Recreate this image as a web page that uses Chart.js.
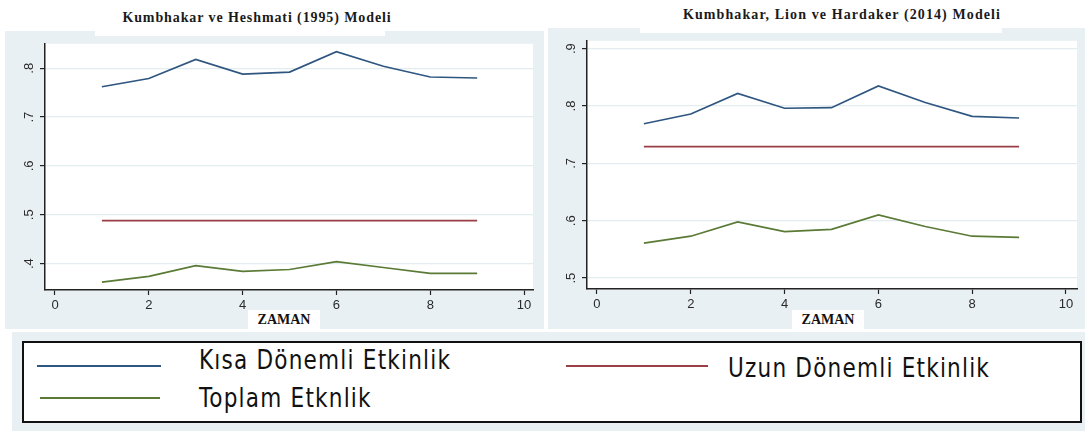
<!DOCTYPE html>
<html>
<head>
<meta charset="utf-8">
<script src="https://cdn.jsdelivr.net/npm/chart.js@4/dist/chart.umd.min.js"></script>
<style>
  html, body { margin: 0; padding: 0; background: #ffffff; }
  #page { position: relative; width: 1085px; height: 431px; overflow: hidden; background: #ffffff; }
  .panel { position: absolute; background: #e9f0f3; }
  .panel canvas { position: absolute; left: 0; top: 0; }
  .title { position: absolute; font-family: "Liberation Serif", "Times New Roman", serif; font-weight: bold;
           font-size: 14px; letter-spacing: 0.9px; color: #1a1a1a; white-space: nowrap; transform: translateX(-50%); }
  .xtitle { position: absolute; background: #ffffff; font-family: "Liberation Serif", "Times New Roman", serif;
            font-weight: bold; font-size: 14px; color: #111; text-align: center; line-height: 19px; }
  .patch { position: absolute; background: #ffffff; }
  #legendArea { position: absolute; left: 12px; top: 332px; width: 1073px; height: 99px; background: #e9f0f3; }
  #legendBox { position: absolute; left: 22px; top: 341px; width: 1056px; height: 78px; background: #ffffff; border: 2px solid #111; }
  .key { position: absolute; height: 2px; }
  .ltext { position: absolute; font-family: "DejaVu Sans Condensed", "DejaVu Sans", sans-serif; font-size: 24px;
           letter-spacing: 1.2px; color: #111; white-space: nowrap; transform-origin: left center;
           transform: scale(1.0, 1.1); line-height: 26px; }
</style>
</head>
<body>
<div id="page">
  <div class="title" style="left:257px; top:10px;">Kumbhakar ve Heshmati (1995) Modeli</div>
  <div class="title" style="left:842px; top:7px; letter-spacing:1.1px;">Kumbhakar, Lion ve Hardaker (2014) Modeli</div>

  <div class="panel" style="left:5px; top:31px; width:539px; height:298px;"><canvas id="khChart" width="539" height="298"></canvas></div>
  <div class="panel" style="left:548px; top:28px; width:537px; height:301px;"><canvas id="klhChart" width="537" height="301"></canvas></div>

  <div class="patch" style="left:95px; top:31px; width:290px; height:5px;"></div>
  <div class="patch" style="left:640px; top:28px; width:362px; height:5px;"></div>

  <div class="xtitle" style="left:248px; top:310px; width:72px; height:19px;">ZAMAN</div>
  <div class="xtitle" style="left:792px; top:310px; width:72px; height:19px;">ZAMAN</div>

  <div id="legendArea"></div>
  <div id="legendBox"></div>
  <div class="key" style="left:37px; top:365px; width:124px; background:#2f5680;"></div>
  <div class="key" style="left:566px; top:365px; width:142px; background:#9a3f45;"></div>
  <div class="key" style="left:40px; top:397px; width:120px; background:#5a7a36;"></div>
  <div class="ltext" style="left:199px; top:347px;">Kısa Dönemli Etkinlik</div>
  <div class="ltext" style="left:728px; top:355px;">Uzun Dönemli Etkinlik</div>
  <div class="ltext" style="left:199px; top:385px;">Toplam Etknlik</div>
</div>

<script>
// Time axis (ZAMAN) and tick labels
const zaman = [1, 2, 3, 4, 5, 6, 7, 8, 9];
const xTicks = [0, 2, 4, 6, 8, 10];

// Kumbhakar ve Heshmati (1995)
const khKisa   = [0.762, 0.779, 0.818, 0.788, 0.792, 0.834, 0.804, 0.782, 0.780];
const khUzun   = [0.488, 0.488, 0.488, 0.488, 0.488, 0.488, 0.488, 0.488, 0.488];
const khToplam = [0.362, 0.374, 0.396, 0.384, 0.388, 0.404, 0.392, 0.380, 0.380];
const khYTicks  = [0.4, 0.5, 0.6, 0.7, 0.8];
const khYLabels = ['.4', '.5', '.6', '.7', '.8'];

// Kumbhakar, Lion ve Hardaker (2014)
const klhKisa   = [0.769, 0.786, 0.822, 0.796, 0.797, 0.835, 0.806, 0.782, 0.779];
const klhUzun   = [0.729, 0.729, 0.729, 0.729, 0.729, 0.729, 0.729, 0.729, 0.729];
const klhToplam = [0.561, 0.573, 0.598, 0.581, 0.585, 0.610, 0.590, 0.573, 0.571];
const klhYTicks  = [0.5, 0.6, 0.7, 0.8, 0.9];
const klhYLabels = ['.5', '.6', '.7', '.8', '.9'];

const COLORS = { kisa: '#2f5680', uzun: '#9a3f45', toplam: '#5a7a36' };

// white plot region on the tinted panel
const plotBackground = {
  id: 'plotBackground',
  beforeDraw(chart) {
    const a = chart.chartArea, ctx = chart.ctx;
    ctx.save();
    ctx.fillStyle = '#ffffff';
    ctx.fillRect(a.left, a.top, a.right - a.left, a.bottom - a.top);
    ctx.restore();
  }
};

function series(values, color) {
  return {
    data: zaman.map((x, i) => ({ x: x, y: values[i] })),
    borderColor: color,
    borderWidth: 1.7,
    pointRadius: 0,
    tension: 0,
    fill: false
  };
}

function makeChart(id, kisa, uzun, toplam, yTicks, yLabels, cfg) {
  return new Chart(document.getElementById(id), {
    type: 'line',
    data: { datasets: [series(kisa, COLORS.kisa), series(uzun, COLORS.uzun), series(toplam, COLORS.toplam)] },
    plugins: [plotBackground],
    options: {
      responsive: false,
      animation: false,
      devicePixelRatio: 1,
      layout: { padding: { top: cfg.padTop, right: cfg.padRight, left: 0, bottom: 0 } },
      plugins: { legend: { display: false }, tooltip: { enabled: false } },
      scales: {
        x: {
          type: 'linear',
          min: cfg.xMin, max: cfg.xMax,
          afterBuildTicks: s => { s.ticks = xTicks.map(v => ({ value: v })); },
          afterFit: s => { s.height = cfg.xHeight; },
          grid: { drawOnChartArea: false, drawTicks: true, tickLength: 5, tickColor: '#222', tickWidth: 1.2 },
          border: { color: '#222', width: 1.5 },
          ticks: { color: '#2a2a2a', font: { family: 'Liberation Sans, Arial, sans-serif', size: 13 },
                   padding: 3, maxRotation: 0, minRotation: 0, callback: v => String(v) }
        },
        y: {
          type: 'linear',
          min: cfg.yMin, max: cfg.yMax,
          afterBuildTicks: s => { s.ticks = yTicks.map(v => ({ value: v })); },
          afterFit: s => { s.width = cfg.yWidth; },
          grid: { color: '#e3edf0', lineWidth: 1.2, drawTicks: true, tickLength: 5, tickColor: '#222', tickWidth: 1.2 },
          border: { color: '#222', width: 1.5 },
          ticks: { color: '#2a2a2a', font: { family: 'Liberation Sans, Arial, sans-serif', size: 13 },
                   padding: 5, minRotation: 90, maxRotation: 90, crossAlign: 'center',
                   callback: v => yLabels[yTicks.findIndex(t => Math.abs(t - v) < 1e-9)] }
        }
      }
    }
  });
}

makeChart('khChart', khKisa, khUzun, khToplam, khYTicks, khYLabels,
  { padTop: 6, padRight: 11, xHeight: 39, yWidth: 40, xMin: -0.213, xMax: 10.19, yMin: 0.346, yMax: 0.85 });

makeChart('klhChart', klhKisa, klhUzun, klhToplam, klhYTicks, klhYLabels,
  { padTop: 6, padRight: 8, xHeight: 40, yWidth: 39, xMin: -0.213, xMax: 10.235, yMin: 0.481, yMax: 0.9136 });
</script>
</body>
</html>
